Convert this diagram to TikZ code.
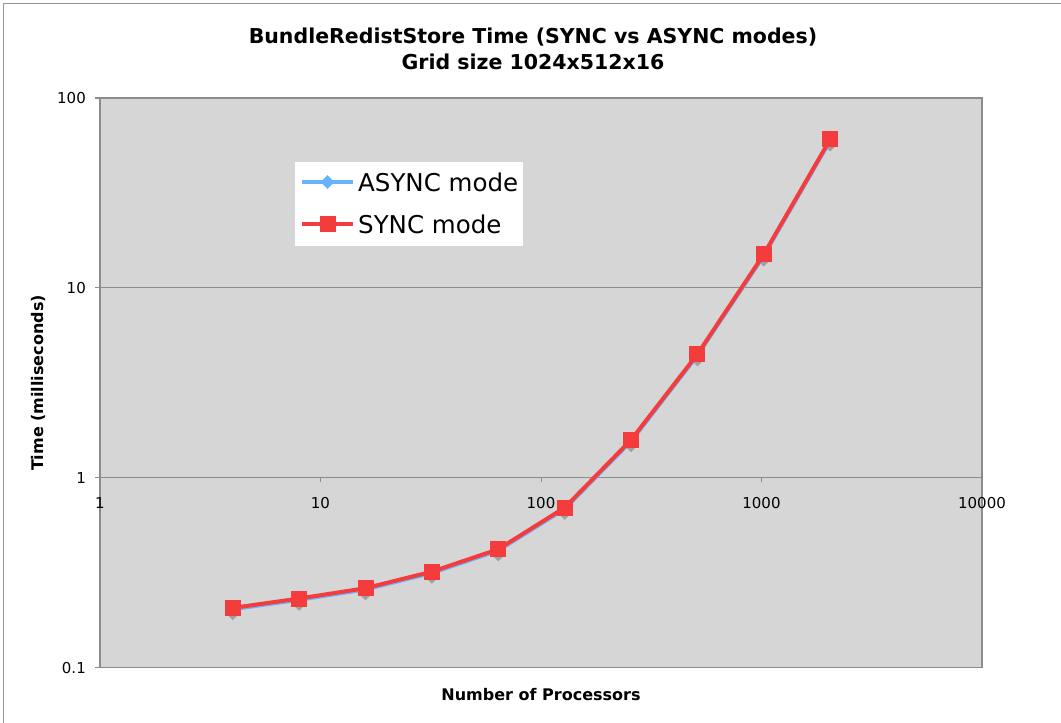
\documentclass[tikz,border=0pt]{standalone}
\usepackage{fontspec}
\setmainfont{DejaVu Sans}
\usetikzlibrary{shapes.geometric}
\definecolor{plotbg}{RGB}{214,214,214}
\definecolor{axisgray}{RGB}{140,140,140}
\definecolor{framegray}{RGB}{150,150,150}
\definecolor{syncred}{RGB}{245,60,60}
\definecolor{asyncblue}{RGB}{102,180,255}
\definecolor{shadowgray}{RGB}{160,160,160}
\tikzset{
  titletext/.style={font=\fontsize{20.5}{24}\selectfont\bfseries, inner sep=0},
  axtext/.style={font=\fontsize{16}{19}\selectfont\bfseries, inner sep=0},
  ticktext/.style={font=\fontsize{15}{18}\selectfont, inner sep=0},
  legtext/.style={font=\fontsize{24.5}{28}\selectfont, inner sep=0, anchor=west},
  syncline/.style={draw=syncred, line width=4, line join=round},
  asyncline/.style={draw=asyncblue, line width=4, line join=round},
  sqmark/.style={rectangle, fill=syncred, minimum size=16, inner sep=0},
  dmark/.style={diamond, fill=asyncblue, minimum size=14, inner sep=0},
  dshadow/.style={diamond, fill=shadowgray, minimum size=14, inner sep=0},
  gridline/.style={draw=axisgray, line width=1.3},
  tickline/.style={draw=axisgray, line width=0.8},
}
\begin{document}
\begin{tikzpicture}[x=1pt,y=-1pt]
\useasboundingbox (0,0) rectangle (1061,723);
\fill[white] (0,0) rectangle (1061,723);
\draw[framegray, line width=1.2] (3.5,723) -- (3.5,3.5) -- (1061,3.5);
% plot area
\fill[plotbg] (100,98) rectangle (982,667.6);
\draw[gridline] (100,287.8) -- (982,287.8);
\draw[gridline] (100,477.7) -- (982,477.7);
\draw[axisgray, line width=1.6] (100,98) rectangle (982,667.6);
% y ticks
\foreach \yy in {98,287.8,477.7,667.6} \draw[gridline] (95,\yy) -- (100,\yy);
% x ticks
\foreach \xx in {320.5,541,761.5,982} \draw[tickline] (\xx,477.7) -- (\xx,482);
% tick labels
\node[ticktext] (x1) at (100,503) {1};
\node[ticktext] (x10) at (320.5,503) {10};
\node[ticktext] (x100) at (541,503) {100};
\node[ticktext] (x1000) at (761.5,503) {1000};
\node[ticktext] (x10000) at (982,503) {10000};
\node[ticktext, anchor=east] (y100) at (86,98) {100};
\node[ticktext, anchor=east] (y10) at (86,287.8) {10};
\node[ticktext, anchor=east] (y1) at (86,477.7) {1};
\node[ticktext, anchor=east] (y01) at (86,667.6) {0.1};
% titles
\node[titletext] (title1) at (533,37) {BundleRedistStore Time (SYNC vs ASYNC modes)};
\node[titletext] (title2) at (533,62) {Grid size 1024x512x16};
\node[axtext, rotate=90] (ylab) at (38,383) {Time (milliseconds)};
\node[axtext] (xlab) at (541,695) {Number of Processors};
% data coordinates
\foreach \n/\s [count=\i] in {4/0.206,8/0.231,16/0.262,32/0.320,64/0.420,128/0.695,256/1.58,512/4.47,1024/15.0,2048/60.5}{
  \coordinate (s\i) at ({100+220.5*log10(\n)},{477.7-189.9*log10(\s)});
  \coordinate (a\i) at ({100+220.5*log10(\n)},{477.7-189.9*log10(\s*0.985)});
}
% ASYNC series
\foreach \i in {1,...,10} \node[dshadow] (ash\i) at ([yshift=-4]a\i) {};
\draw[asyncline] (a1) -- (a2) -- (a3) -- (a4) -- (a5) -- (a6) -- (a7) -- (a8) -- (a9) -- (a10);
\foreach \i in {1,...,10} \node[dmark] (am\i) at (a\i) {};
% SYNC series
\draw[syncline] (s1) -- (s2) -- (s3) -- (s4) -- (s5) -- (s6) -- (s7) -- (s8) -- (s9) -- (s10);
\foreach \i in {1,...,10} \node[sqmark] (sm\i) at (s\i) {};
% legend
\node[fill=white, minimum width=228, minimum height=84, inner sep=0, anchor=north west] (legend) at (295,162) {};
\coordinate (la1) at (302,182); \coordinate (la2) at (353,182);
\draw[asyncline] (la1) -- (la2);
\node[dmark] (lam) at (327.5,182) {};
\node[legtext] (lat) at (358,182) {ASYNC mode};
\coordinate (ls1) at (302,224); \coordinate (ls2) at (353,224);
\draw[syncline] (ls1) -- (ls2);
\node[sqmark] (lsm) at (327.5,224) {};
\node[legtext] (lst) at (358,224) {SYNC mode};
\end{tikzpicture}
\end{document}
